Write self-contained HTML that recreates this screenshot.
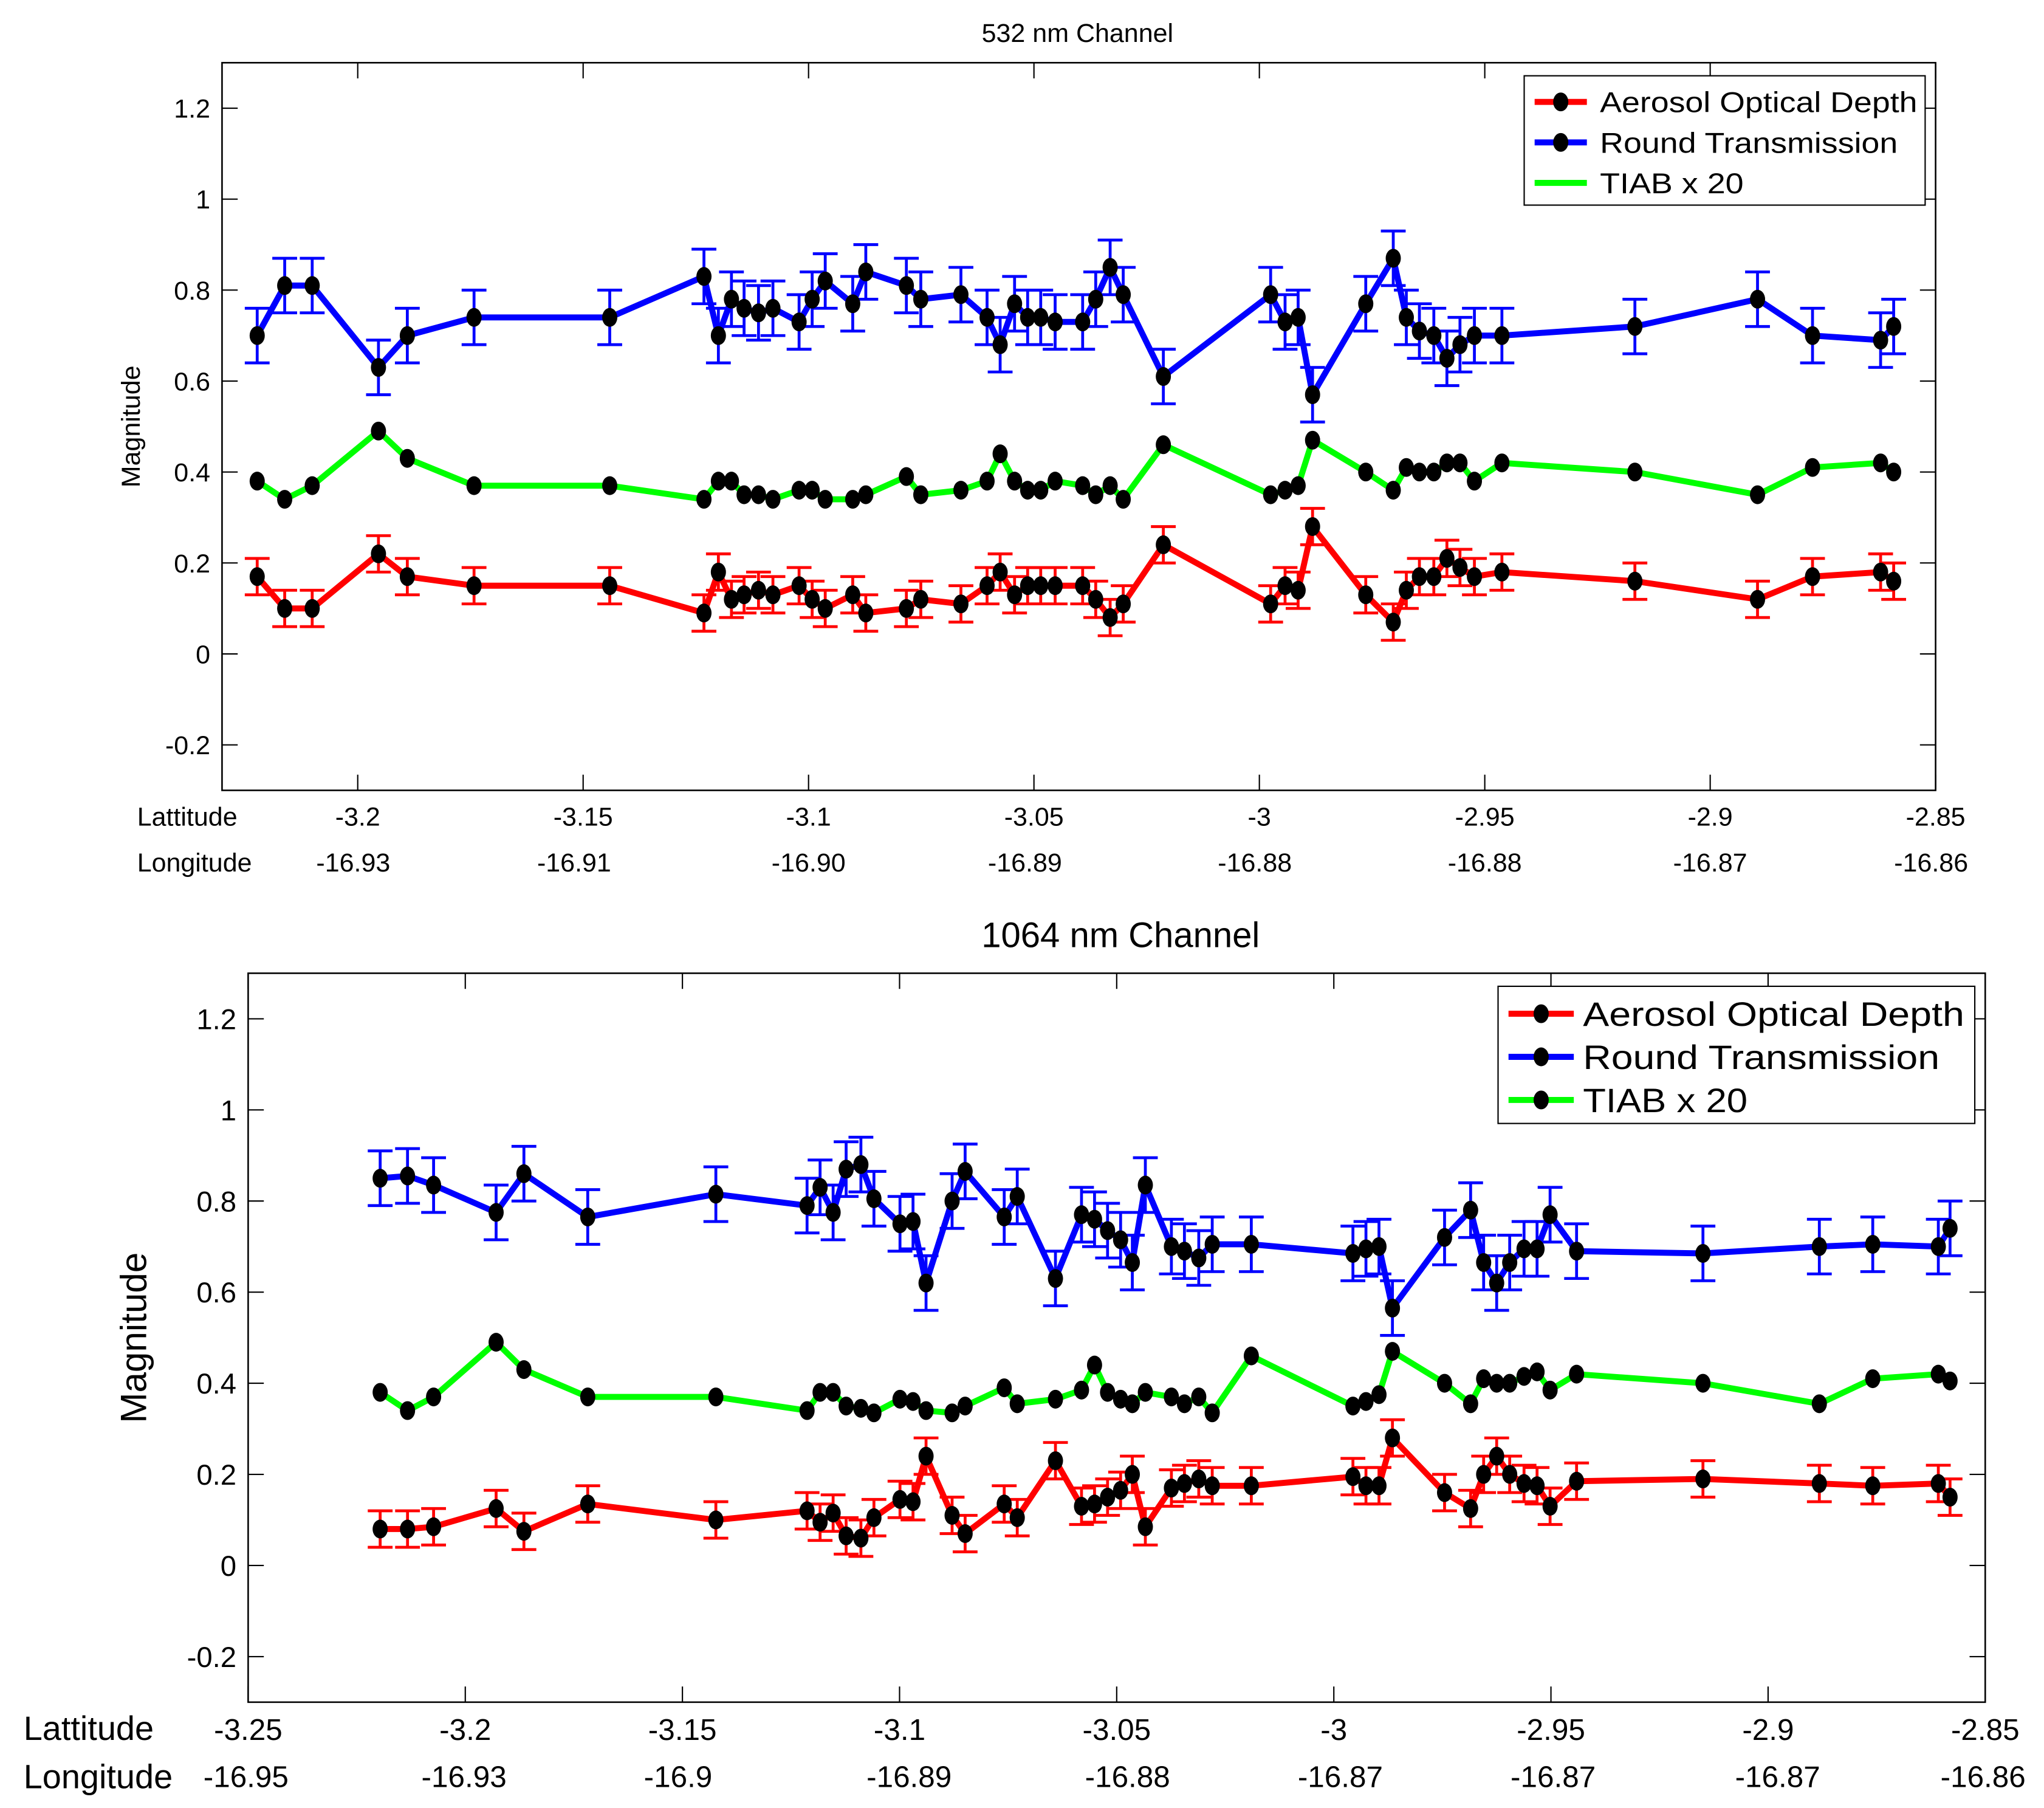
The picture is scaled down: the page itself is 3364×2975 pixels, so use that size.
<!DOCTYPE html>
<html><head><meta charset="utf-8"><style>
html,body{margin:0;padding:0;background:#fff}
svg{display:block}
text{font-family:"Liberation Sans",Arial,sans-serif;fill:#000}
</style></head>
<body>
<svg id="chart" xmlns="http://www.w3.org/2000/svg" width="3364" height="2975" viewBox="0 0 1565 1384">
<rect x="0" y="0" width="1565" height="1384" fill="#fff"/>
</svg>
<script>
// ---- Top chart (532 nm) data ----
const topLat = [-3.2223,-3.2162,-3.2101,-3.1954,-3.1890,-3.1742,-3.1441,-3.1232,-3.1200,-3.1171,-3.1143,-3.1111,-3.1079,-3.1021,-3.0992,-3.0963,-3.0902,-3.0873,-3.0783,-3.0751,-3.0662,-3.0604,-3.0575,-3.0543,-3.0514,-3.0485,-3.0453,-3.0392,-3.0363,-3.0331,-3.0302,-3.0213,-2.9975,-2.9943,-2.9914,-2.9882,-2.9764,-2.9703,-2.9674,-2.9645,-2.9613,-2.9584,-2.9555,-2.9523,-2.9462,-2.9167,-2.8895,-2.8773,-2.8622,-2.8593];
const topBlue = [0.70,0.81,0.81,0.63,0.70,0.74,0.74,0.83,0.70,0.78,0.76,0.75,0.76,0.73,0.78,0.82,0.77,0.84,0.81,0.78,0.79,0.74,0.68,0.77,0.74,0.74,0.73,0.73,0.78,0.85,0.79,0.61,0.79,0.73,0.74,0.57,0.77,0.87,0.74,0.71,0.70,0.65,0.68,0.70,0.70,0.72,0.78,0.70,0.69,0.72];
const topGreen = [0.38,0.34,0.37,0.49,0.43,0.37,0.37,0.34,0.38,0.38,0.35,0.35,0.34,0.36,0.36,0.34,0.34,0.35,0.39,0.35,0.36,0.38,0.44,0.38,0.36,0.36,0.38,0.37,0.35,0.37,0.34,0.46,0.35,0.36,0.37,0.47,0.40,0.36,0.41,0.40,0.40,0.42,0.42,0.38,0.42,0.40,0.35,0.41,0.42,0.40];
const topRed = [0.17,0.10,0.10,0.22,0.17,0.15,0.15,0.09,0.18,0.12,0.13,0.14,0.13,0.15,0.12,0.10,0.13,0.09,0.10,0.12,0.11,0.15,0.18,0.13,0.15,0.15,0.15,0.15,0.12,0.08,0.11,0.24,0.11,0.15,0.14,0.28,0.13,0.07,0.14,0.17,0.17,0.21,0.19,0.17,0.18,0.16,0.12,0.17,0.18,0.16];
const topBlueErr = 0.06;
const topRedErr = 0.04;
const topLatTicks = [-3.2,-3.15,-3.1,-3.05,-3,-2.95,-2.9,-2.85];
const topLatLabels = ["-3.2","-3.15","-3.1","-3.05","-3","-2.95","-2.9","-2.85"];
const topLonLabels = ["-16.93","-16.91","-16.90","-16.89","-16.88","-16.88","-16.87","-16.86"];
const topLonPos = [-3.201,-3.152,-3.100,-3.052,-3.001,-2.950,-2.900,-2.851];

// ---- Bottom chart (1064 nm) data ----
const botLat = [-3.2196,-3.2133,-3.2073,-3.1929,-3.1865,-3.1718,-3.1423,-3.1213,-3.1183,-3.1153,-3.1123,-3.1089,-3.1059,-3.0999,-3.0969,-3.0939,-3.0879,-3.0849,-3.0759,-3.0729,-3.0641,-3.0581,-3.0551,-3.0521,-3.0491,-3.0464,-3.0434,-3.0374,-3.0344,-3.0311,-3.0280,-3.0190,-2.9956,-2.9926,-2.9896,-2.9865,-2.9745,-2.9685,-2.9655,-2.9625,-2.9595,-2.9562,-2.9532,-2.9502,-2.9441,-2.9150,-2.8882,-2.8759,-2.8608,-2.8581];
const botBlue = [0.85,0.855,0.835,0.775,0.86,0.765,0.815,0.79,0.83,0.775,0.87,0.88,0.805,0.75,0.755,0.62,0.80,0.865,0.765,0.81,0.63,0.77,0.76,0.735,0.715,0.665,0.835,0.70,0.69,0.675,0.705,0.705,0.685,0.695,0.70,0.565,0.72,0.78,0.665,0.62,0.665,0.695,0.695,0.77,0.69,0.685,0.70,0.705,0.70,0.74];
const botGreen = [0.38,0.34,0.37,0.49,0.43,0.37,0.37,0.34,0.38,0.38,0.35,0.345,0.335,0.365,0.36,0.34,0.335,0.35,0.39,0.355,0.365,0.385,0.44,0.38,0.365,0.355,0.38,0.37,0.355,0.37,0.335,0.46,0.35,0.36,0.375,0.47,0.40,0.355,0.41,0.40,0.40,0.415,0.425,0.385,0.42,0.40,0.355,0.41,0.42,0.405];
const botRed = [0.08,0.08,0.085,0.125,0.075,0.135,0.10,0.12,0.095,0.115,0.065,0.06,0.105,0.145,0.14,0.24,0.11,0.07,0.135,0.105,0.23,0.13,0.135,0.15,0.165,0.20,0.085,0.17,0.18,0.19,0.175,0.175,0.195,0.175,0.175,0.28,0.16,0.125,0.20,0.24,0.20,0.18,0.175,0.13,0.185,0.19,0.18,0.175,0.18,0.15];
const botBlueErr = 0.06;
const botRedErr = 0.04;
const botLatTicks = [-3.25,-3.2,-3.15,-3.1,-3.05,-3,-2.95,-2.9,-2.85];
const botLatLabels = ["-3.25","-3.2","-3.15","-3.1","-3.05","-3","-2.95","-2.9","-2.85"];
const botLonLabels = ["-16.95","-16.93","-16.9","-16.89","-16.88","-16.87","-16.87","-16.87","-16.86"];
const botLonPos = [-3.2505,-3.2003,-3.151,-3.0978,-3.0475,-2.9985,-2.9495,-2.8978,-2.8505];

const yTicks = [-0.2,0,0.2,0.4,0.6,0.8,1,1.2];
const yTickLabels = ["-0.2","0","0.2","0.4","0.6","0.8","1","1.2"];

const NS = "http://www.w3.org/2000/svg";
const svg = document.getElementById('chart');
function mk(tag, attrs, parent, text){
  const e = document.createElementNS(NS, tag);
  for (const k in attrs) e.setAttribute(k, attrs[k]);
  if (text !== undefined) e.textContent = text;
  (parent || svg).appendChild(e);
  return e;
}

function drawChart(cfg){
  const g = mk('g', {});
  
  
  const xs = v => cfg.x0 + (v - cfg.xmin) / (cfg.xmax - cfg.xmin) * (cfg.x1 - cfg.x0);
  const ys = v => cfg.y1 - (v - (-0.3)) / 1.6 * (cfg.y1 - cfg.y0);

  const box = mk('rect', {x:cfg.x0, y:cfg.y0, width:cfg.x1-cfg.x0, height:cfg.y1-cfg.y0, fill:'none', stroke:'#000', 'stroke-width':1.2}, g);
  
  

  const yAxis = mk('g', {}, g);
  
  
  yTicks.forEach((t, i) => {
    const y = ys(t);
    mk('line', {x1:cfg.x0, x2:cfg.x0+12, y1:y, y2:y, stroke:'#000', 'stroke-width':1}, yAxis);
    mk('line', {x1:cfg.x1, x2:cfg.x1-12, y1:y, y2:y, stroke:'#000', 'stroke-width':1}, yAxis);
    const lb = mk('text', {x:cfg.x0-9, y:y+cfg.yfs*0.36, 'text-anchor':'end', 'font-size':cfg.yfs}, yAxis, yTickLabels[i]);
    
    
  });
  const xAxis = mk('g', {}, g);
  
  
  cfg.latTicks.forEach((t, i) => {
    const x = xs(t);
    mk('line', {x1:x, x2:x, y1:cfg.y1, y2:cfg.y1-12, stroke:'#000', 'stroke-width':1}, xAxis);
    mk('line', {x1:x, x2:x, y1:cfg.y0, y2:cfg.y0+12, stroke:'#000', 'stroke-width':1}, xAxis);
    const lb = mk('text', {x:x, y:cfg.latY, 'text-anchor':'middle', 'font-size':cfg.xfs}, xAxis, cfg.latLabels[i]);
    
    
  });
  cfg.lonLabels.forEach((t, i) => {
    const lb = mk('text', {x:xs(cfg.lonPos[i]), y:cfg.lonY, 'text-anchor':'middle', 'font-size':cfg.xfs}, xAxis, t);
    
    
  });
  const latT = mk('text', {x:cfg.latTitleX, y:cfg.latY, 'font-size':cfg.rowfs}, g, 'Lattitude');
  
  
  const lonT = mk('text', {x:cfg.latTitleX, y:cfg.lonY+cfg.lonTitleDy, 'font-size':cfg.rowfs}, g, 'Longitude');
  
  

  const tt = mk('text', {x:cfg.titleX, y:cfg.titleY, 'text-anchor':'middle', 'font-size':cfg.titlefs}, g, cfg.title);
  
  
  const cy = (cfg.y0+cfg.y1)/2 + cfg.ylabDy;
  const yl = mk('text', {x:cfg.ylabX, y:cy, 'text-anchor':'middle', 'font-size':cfg.ylabfs, transform:'rotate(-90 '+cfg.ylabX+' '+cy+')'}, g, 'Magnitude');
  
  

  function series(name, vals, color, err){
    const sg = mk('g', {}, g);
    
    
    if (err) {
      vals.forEach((v, i) => {
        const x = xs(cfg.lat[i]), ya = ys(v+err), yb = ys(v-err);
        mk('path', {d:'M'+x+' '+ya+'V'+yb+'M'+(x-9.5)+' '+ya+'H'+(x+9.5)+'M'+(x-9.5)+' '+yb+'H'+(x+9.5), stroke:color, 'stroke-width':2.2, fill:'none'}, sg);
      });
    }
    const pts = vals.map((v, i) => xs(cfg.lat[i]).toFixed(2)+','+ys(v).toFixed(2)).join(' ');
    const pl = mk('polyline', {points:pts, fill:'none', stroke:color, 'stroke-width':4.6, 'stroke-linejoin':'miter'}, sg);
    
    
    vals.forEach((v, i) => {
      const m = mk('ellipse', {cx:xs(cfg.lat[i]), cy:ys(v), rx:5.8, ry:7.2, fill:'#000'}, sg);
      
      
    });
  }
  series('round-transmission-series', cfg.blue, '#0000ff', cfg.blueErr);
  series('tiab-series', cfg.green, '#00ff00', 0);
  series('aod-series', cfg.red, '#ff0000', cfg.redErr);

  const L = cfg.legend;
  const lg = mk('g', {}, g);
  
  
  mk('rect', {x:L.x, y:L.y, width:L.w, height:L.h, fill:'#fff', stroke:'#000', 'stroke-width':1}, lg);
  const items = [['Aerosol Optical Depth','#ff0000',true],['Round Transmission','#0000ff',true],['TIAB x 20','#00ff00',L.greenMarker]];
  items.forEach((it, i) => {
    const e = mk('g', {}, lg);
    
    
    const y = L.y + L.first + i*L.step;
    mk('line', {x1:L.x+L.l0, x2:L.x+L.l1, y1:y, y2:y, stroke:it[1], 'stroke-width':4.6}, e);
    if (it[2]) mk('ellipse', {cx:L.x+(L.l0+L.l1)/2, cy:y, rx:5.8, ry:7.2, fill:'#000'}, e);
    mk('text', {x:L.x+L.tx, y:y+L.fs*0.36, 'font-size':L.fs, textLength:L.tl[i], lengthAdjust:'spacingAndGlyphs'}, e, it[0]);
  });
}

drawChart({name:'chart-532nm', x0:170, x1:1482, y0:48, y1:605, xmin:-3.2301, xmax:-2.85,
  lat:topLat, blue:topBlue, green:topGreen, red:topRed, blueErr:topBlueErr, redErr:topRedErr,
  latTicks:topLatTicks, latLabels:topLatLabels, lonLabels:topLonLabels, lonPos:topLonPos,
  latY:632, lonY:667, lonTitleDy:0, latTitleX:105, xfs:20, yfs:20, rowfs:20,
  title:'532 nm Channel', titleX:825, titleY:32, titlefs:20,
  ylabX:107, ylabDy:0, ylabfs:20,
  legend:{x:1167, y:58, w:307, h:99, first:20, step:31, l0:8, l1:48, tx:58, fs:22, tl:[243,228,110], greenMarker:false}});

drawChart({name:'chart-1064nm', x0:190, x1:1520, y0:745, y1:1303, xmin:-3.25, xmax:-2.85,
  lat:botLat, blue:botBlue, green:botGreen, red:botRed, blueErr:botBlueErr, redErr:botRedErr,
  latTicks:botLatTicks, latLabels:botLatLabels, lonLabels:botLonLabels, lonPos:botLonPos,
  latY:1332, lonY:1368, lonTitleDy:1, latTitleX:18, xfs:23, yfs:22, rowfs:26,
  title:'1064 nm Channel', titleX:858, titleY:725, titlefs:27,
  ylabX:112, ylabDy:0, ylabfs:28,
  legend:{x:1147, y:755, w:365, h:105, first:21, step:33, l0:8, l1:58, tx:65, fs:26, tl:[292,273,126], greenMarker:true}});
</script>
</body></html>
